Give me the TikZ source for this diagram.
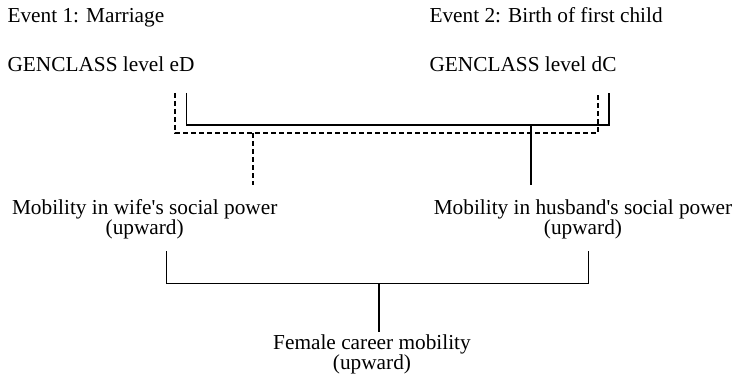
\documentclass[tikz,border=0pt]{standalone}
\usepackage{fontspec}
\newfontfamily\txtfont{Liberation Serif}
\begin{document}
\begin{tikzpicture}[x=1pt,y=-1pt,line width=1.1pt,
  lbl/.style={inner sep=0pt,font=\txtfont\fontsize{21.3}{19.8}\selectfont},
  twoline/.style={lbl,align=center,anchor=base},
  dsh/.style={dash pattern=on 5pt off 3pt}]
\useasboundingbox (0,0) rectangle (735,382);
% top texts
\node[lbl,anchor=base west] (e1) at (7,22.7) {Event 1: Marriage};
\node[lbl,anchor=base west] (g1) at (7,71.7) {GENCLASS level eD};
\node[lbl,anchor=base west] (e2) at (429,22.7) {Event 2: Birth of first child};
\node[lbl,anchor=base west] (g2) at (429,71.7) {GENCLASS level dC};
% middle and bottom texts (anchor = baseline of last line)
\node[twoline] (wife) at (144.7,234) {Mobility in wife's social power\\(upward)};
\node[twoline] (husb) at (583,234) {Mobility in husband's social power\\(upward)};
\node[twoline] (fem) at (372,369.5) {Female career mobility\\(upward)};
% bracket coordinates
\coordinate (sL) at (186.7,93);
\coordinate (sR) at (609,93);
\coordinate (sM) at (531,125);
\coordinate (sD) at (531,185);
\coordinate (dL) at (175,93);
\coordinate (dR) at (598,93);
\coordinate (dM) at (253,133);
\coordinate (dD) at (253,185);
\coordinate (bL) at (166.7,251);
\coordinate (bR) at (588.7,251);
\coordinate (bM) at (379,283.3);
\coordinate (bD) at (379,331.7);
% solid bracket (event 2 -> husband)
\draw (sL) -- (sL |- sM) -- (sR |- sM) -- (sR);
\draw (sM) -- (sD);
% dashed bracket (event 1 -> wife)
\draw[dsh] (dL) -- (dL |- dM) -- (dR |- dM) -- (dR);
\draw[dsh] (dM) -- (dD);
% bottom bracket
\draw (bL) -- (bL |- bM) -- (bR |- bM) -- (bR);
\draw (bM) -- (bD);
\end{tikzpicture}
\end{document}
